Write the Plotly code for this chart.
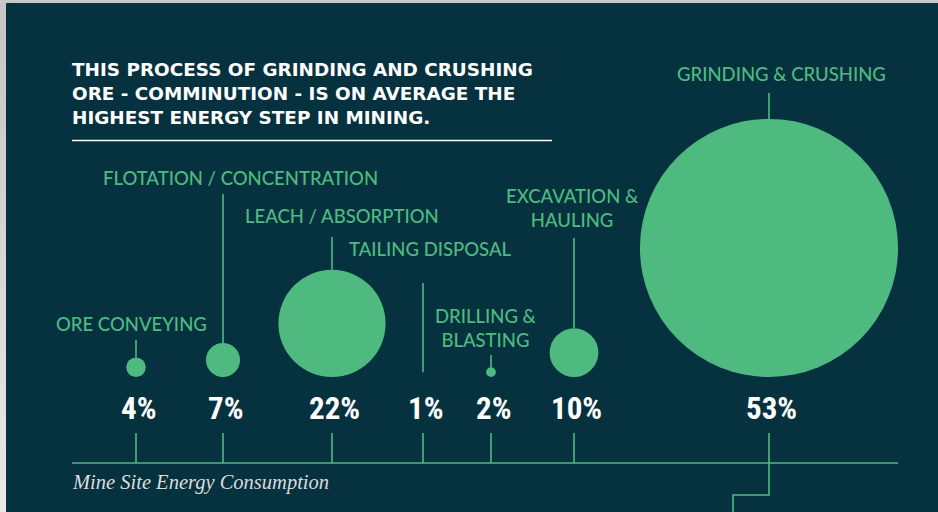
import plotly.graph_objects as go

# --- data -----------------------------------------------------------------
steps = [
    "ORE CONVEYING",
    "FLOTATION / CONCENTRATION",
    "LEACH / ABSORPTION",
    "TAILING DISPOSAL",
    "DRILLING &<br>BLASTING",
    "EXCAVATION &<br>HAULING",
    "GRINDING & CRUSHING",
]
energy_share = [4, 7, 22, 1, 2, 10, 53]  # % of mine site energy consumption

headline = [
    "THIS PROCESS OF GRINDING AND CRUSHING",
    "ORE - COMMINUTION - IS ON AVERAGE THE",
    "HIGHEST ENERGY STEP IN MINING.",
]

# --- layout (pixel coordinates on a 938 x 512 canvas) ---------------------
W, H = 938, 512
BG = "#06323f"
GREEN = "#4fba80"
FRAME = "#c9c9c9"

step_x = [136, 223, 332, 423, 491, 574, 769]      # stem / bubble centre
label_x = [131, 240, 342, 430, 486, 572, 781]     # label centre
label_y = [324, 178, 216, 249, 328, 208, 74]      # label centre
stem_top = [340, 194, 237, 283, 355, 238, 93]     # where each stem starts
show_bubble = [True, True, True, False, True, True, True]

PX_PER_PCT = 4.87        # bubble diameter per percentage point
BUBBLE_BASE = 377        # bubbles rest on this line
PCT_Y = 408              # percentage labels
TICK_TOP, AXIS_Y = 433, 463
AXIS_X0, AXIS_X1 = 72, 898

fig = go.Figure()

# bubbles, diameter proportional to share
diam = [v * PX_PER_PCT for v in energy_share]
bx = [x for x, s in zip(step_x, show_bubble) if s]
bd = [d for d, s in zip(diam, show_bubble) if s]
fig.add_trace(go.Scatter(
    x=bx,
    y=[BUBBLE_BASE - d / 2 for d in bd],
    mode="markers",
    marker=dict(size=bd, color=GREEN, line=dict(width=0), opacity=1),
    hoverinfo="skip",
    showlegend=False,
))

shapes = []
annotations = []

# light frame on the left edge, fading downwards
n_bands = 16
for i in range(n_bands):
    g = int(0xc6 + (0xe8 - 0xc6) * i / (n_bands - 1))
    shapes.append(dict(type="rect", xref="x", yref="y",
                       x0=0, x1=6, y0=3 + (H - 3) * i / n_bands - 0.5,
                       y1=3 + (H - 3) * (i + 1) / n_bands + 0.5,
                       fillcolor=f"rgb({g},{g},{g})", line=dict(width=0),
                       layer="above"))

for name, v, x, lx, ly, top, d in zip(steps, energy_share, step_x, label_x,
                                      label_y, stem_top, diam):
    # stem from label down to the top of the bubble
    shapes.append(dict(type="line", xref="x", yref="y", x0=x, x1=x,
                       y0=top, y1=BUBBLE_BASE - d,
                       line=dict(color=GREEN, width=1.6)))
    # tick from the baseline up under the percentage
    shapes.append(dict(type="line", xref="x", yref="y", x0=x, x1=x,
                       y0=TICK_TOP, y1=AXIS_Y,
                       line=dict(color=GREEN, width=1.6)))
    annotations.append(dict(
        x=lx, y=ly, xref="x", yref="y", text=name, showarrow=False,
        xanchor="center", yanchor="middle", align="center",
        font=dict(family="Lato, Noto Sans, sans-serif", size=18.5,
                  color=GREEN, weight=500),
    ))
    annotations.append(dict(
        x=x + 2, y=PCT_Y, xref="x", yref="y", text=f"{v}%", showarrow=False,
        xanchor="center", yanchor="middle",
        font=dict(family="Roboto Condensed, Roboto, sans-serif",
                  size=31, color="#ffffff", weight="bold"),
    ))

# baseline
shapes.append(dict(type="line", xref="x", yref="y", x0=AXIS_X0, x1=AXIS_X1,
                   y0=AXIS_Y, y1=AXIS_Y, line=dict(color=GREEN, width=1.6)))

# connector leaving the largest step towards the bottom
big = energy_share.index(max(energy_share))
gx = step_x[big]
shapes.append(dict(type="path", xref="x", yref="y",
                   path=f"M {gx},{AXIS_Y} L {gx},495 L 733,495 L 733,{H}",
                   line=dict(color=GREEN, width=1.6)))

# headline and rule
annotations.append(dict(
    x=71, y=93, xref="x", yref="y", xanchor="left", yanchor="middle",
    align="left", showarrow=False, borderpad=0, text="<br>".join(headline),
    font=dict(family="DejaVu Sans, Open Sans, sans-serif", size=18.4,
              color="#ffffff", weight="bold"),
))
shapes.append(dict(type="line", xref="x", yref="y", x0=72, x1=552,
                   y0=140.5, y1=140.5, line=dict(color="#ffffff", width=1.6)))

annotations.append(dict(
    x=70, y=482, xref="x", yref="y", xanchor="left", yanchor="middle",
    showarrow=False, text="<i>Mine Site Energy Consumption</i>",
    font=dict(family="Liberation Serif, DejaVu Serif, serif", size=20.5,
              color="#dcdcdc"),
))

fig.update_layout(
    width=W, height=H,
    margin=dict(l=0, r=0, t=3, b=0, pad=0),
    paper_bgcolor=FRAME,
    plot_bgcolor=BG,
    xaxis=dict(range=[0, W], visible=False, fixedrange=True),
    yaxis=dict(range=[H, 3], visible=False, fixedrange=True),
    shapes=shapes,
    annotations=annotations,
    showlegend=False,
)

fig.write_html("out.html", config={"displayModeBar": False})
